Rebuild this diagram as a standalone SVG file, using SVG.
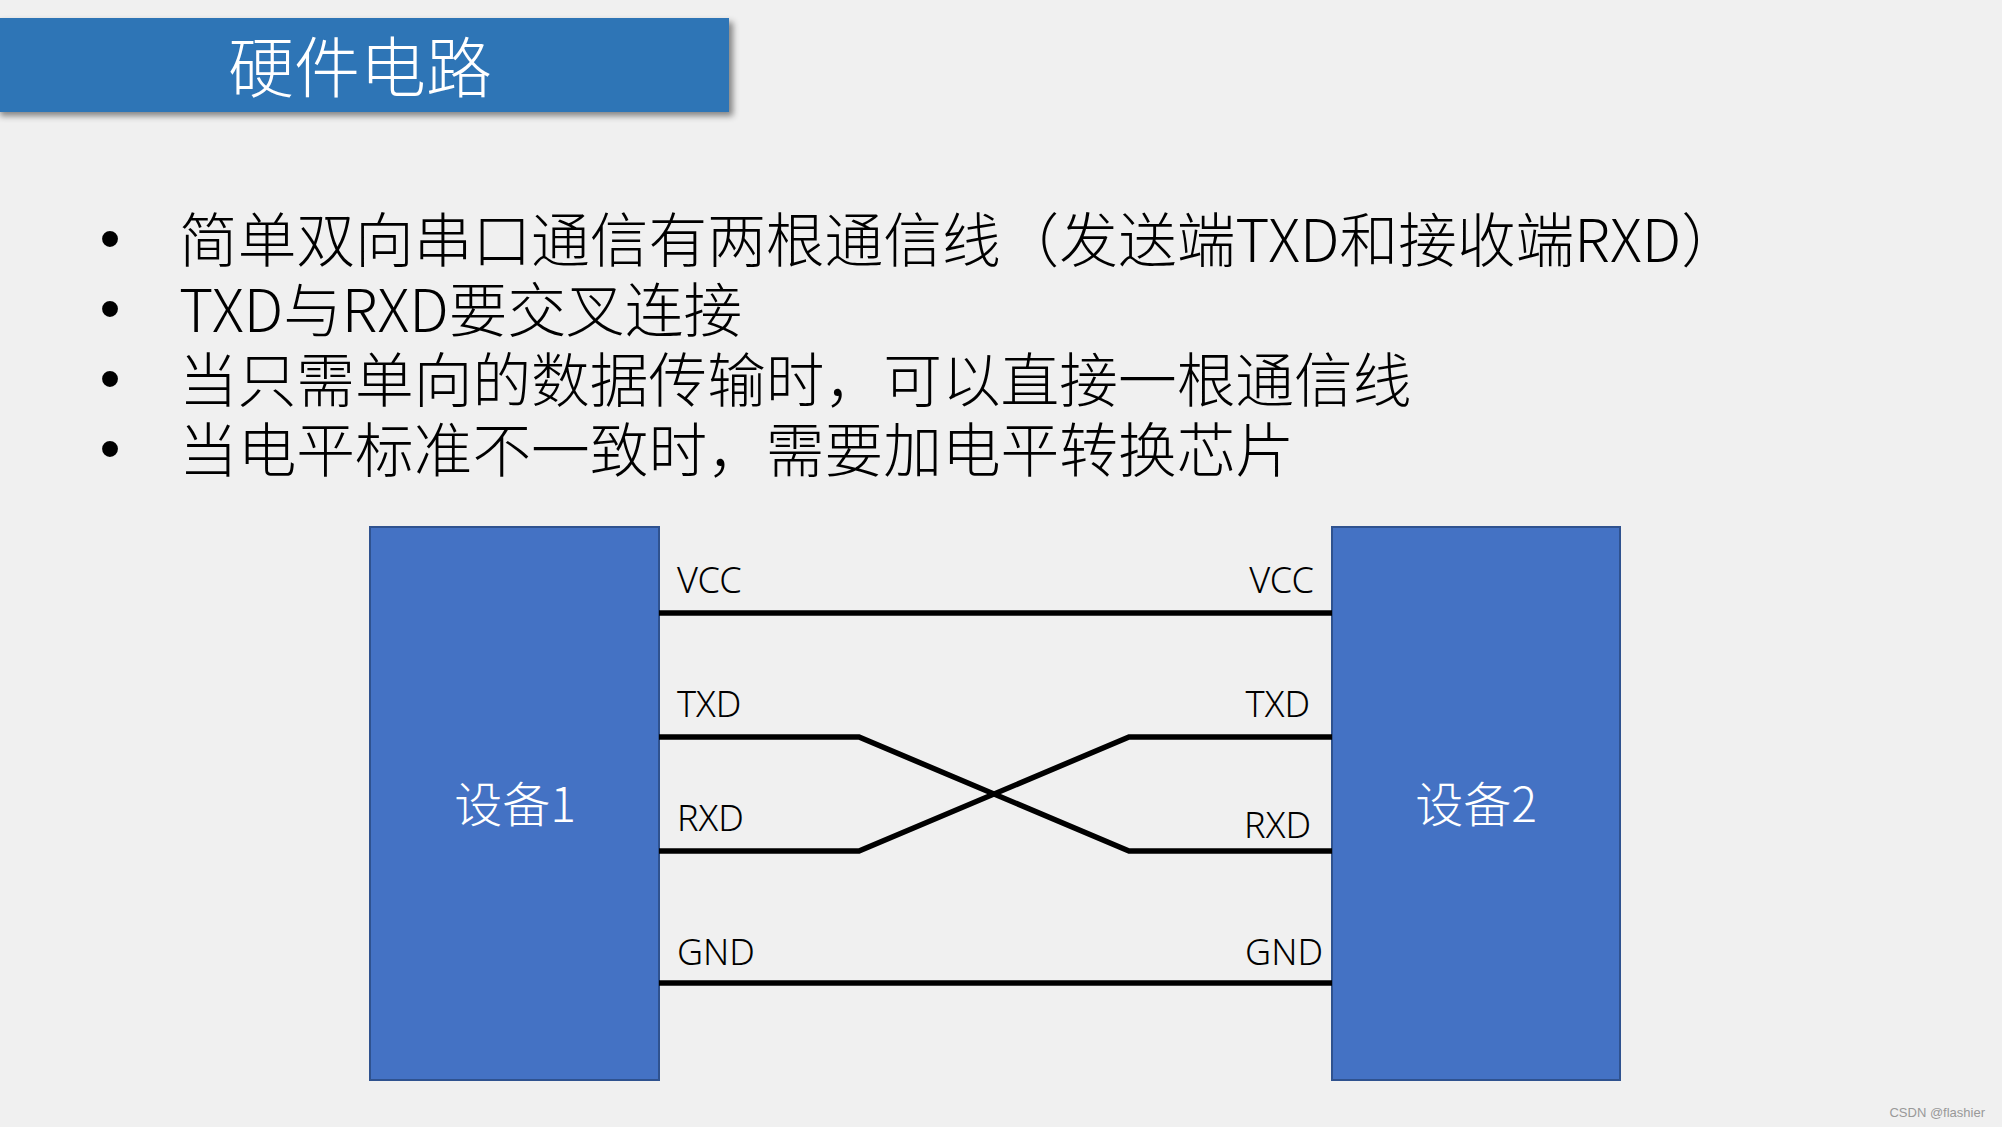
<svg xmlns="http://www.w3.org/2000/svg" width="2002" height="1127" viewBox="0 0 2002 1127">
<defs>
<filter id="sh" x="-5%" y="-20%" width="115%" height="150%">
<feDropShadow dx="4" dy="4" stdDeviation="3" flood-color="#000" flood-opacity="0.45"/>
</filter>
<style>
.cjk{font-family:"Noto Sans CJK SC","Noto Sans",sans-serif;font-weight:300;}
.bul{font-family:"Noto Sans CJK SC","Noto Sans",sans-serif;font-weight:300;font-size:58.7px;fill:#000;}
.dot{font-family:"Liberation Sans",Arial,sans-serif;font-size:58.7px;fill:#000;}
.pin{font-family:"Noto Sans","Noto Sans CJK SC",sans-serif;font-weight:300;font-size:36px;fill:#000;}
.dev{fill:#4472C4;stroke:#2F528F;stroke-width:2;}
.devt{font-family:"Noto Sans CJK SC","Noto Sans",sans-serif;font-weight:300;font-size:48px;fill:#fff;text-anchor:middle;}
.wire{fill:none;stroke:#000;stroke-width:5.5;}
</style>
</defs>
<rect width="2002" height="1127" fill="#F0F0F0"/>
<g id="title">
<rect x="-4" y="18" width="733" height="94" fill="#2E75B6" filter="url(#sh)"/>
<text x="360" y="92" class="cjk" font-size="66" fill="#fff" text-anchor="middle">硬件电路</text>
</g>
<g id="bullets">
<text x="110" y="259" class="dot" text-anchor="middle">•</text>
<text x="179" y="262" class="bul">简单双向串口通信有两根通信线（发送端TXD和接收端RXD）</text>
<text x="110" y="329" class="dot" text-anchor="middle">•</text>
<text x="179" y="332" class="bul">TXD与RXD要交叉连接</text>
<text x="110" y="399" class="dot" text-anchor="middle">•</text>
<text x="179" y="402" class="bul">当只需单向的数据传输时，可以直接一根通信线</text>
<text x="110" y="469" class="dot" text-anchor="middle">•</text>
<text x="179" y="472" class="bul">当电平标准不一致时，需要加电平转换芯片</text>
</g>
<g id="device1">
<rect class="dev" x="370" y="527" width="289" height="553"/>
<text class="devt" x="515" y="822">设备1</text>
</g>
<g id="device2">
<rect class="dev" x="1332" y="527" width="288" height="553"/>
<text class="devt" x="1476" y="822">设备2</text>
</g>
<g id="connectors">
<line class="wire" x1="659" y1="613" x2="1332" y2="613"/>
<polyline class="wire" points="659,737 859,737 1129,851 1332,851"/>
<polyline class="wire" points="1332,737 1129,737 859,851 659,851"/>
<line class="wire" x1="659" y1="983" x2="1332" y2="983"/>
</g>
<g id="pin-labels">
<text class="pin" x="677" y="593">VCC</text>
<text class="pin" x="677" y="717">TXD</text>
<text class="pin" x="677" y="831">RXD</text>
<text class="pin" x="677" y="965">GND</text>
<text class="pin" x="1314" y="593" text-anchor="end">VCC</text>
<text class="pin" x="1310" y="717" text-anchor="end">TXD</text>
<text class="pin" x="1311" y="838" text-anchor="end">RXD</text>
<text class="pin" x="1323" y="965" text-anchor="end">GND</text>
</g>
<text x="1985" y="1117" font-family="Liberation Sans, Arial, sans-serif" font-size="13" fill="#999" text-anchor="end">CSDN @flashier</text>
</svg>
